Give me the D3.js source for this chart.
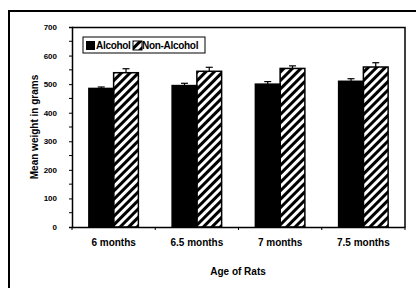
<!DOCTYPE html>
<html>
<head>
<meta charset="utf-8">
<script src="https://cdn.jsdelivr.net/npm/d3@7"></script>
<style>
  body { margin: 0; background: #fff; }
  text { font-family: "Liberation Sans", Arial, sans-serif; font-weight: bold; fill: #000; }
</style>
</head>
<body>
<div id="chart"></div>
<script>
// Data
var categories = ['6 months', '6.5 months', '7 months', '7.5 months'];
var series = ['Alcohol', 'Non-Alcohol'];
var alcohol = [485, 495, 500, 510];
var alcoholErr = [5, 8, 9, 9];
var nonAlcohol = [540, 545, 555, 560];
var nonAlcoholErr = [14, 14, 9, 15];
var yTicks = [0, 100, 200, 300, 400, 500, 600, 700];

var width = 416, height = 288;
var margin = {top: 27, right: 11, bottom: 61, left: 72};
var w = width - margin.left - margin.right;
var h = height - margin.top - margin.bottom;

var svg = d3.select('#chart').append('svg')
    .attr('width', width)
    .attr('height', height);

// hatch pattern
var defs = svg.append('defs');
defs.append('pattern')
    .attr('id', 'hatch')
    .attr('patternUnits', 'userSpaceOnUse')
    .attr('width', 6)
    .attr('height', 6)
    .attr('patternTransform', 'rotate(45)')
  .append('rect')
    .attr('width', 3)
    .attr('height', 6)
    .attr('fill', '#000');

// outer frame (left + top only visible)
svg.append('path')
    .attr('d', 'M9,' + height + 'V11H' + width)
    .attr('fill', 'none')
    .attr('stroke', '#000')
    .attr('stroke-width', 2);

var g = svg.append('g')
    .attr('transform', 'translate(' + margin.left + ',' + margin.top + ')');

var x0 = d3.scaleBand().domain(categories).range([0, w]);
var x1 = d3.scaleBand().domain(series).range([0, 49.5]);
var y = d3.scaleLinear().domain([0, 700]).range([h, 0]);

// plot box top + right
g.append('path')
    .attr('d', 'M0,0.5H' + w + 'V' + h)
    .attr('fill', 'none')
    .attr('stroke', '#000')
    .attr('stroke-width', 1.5);

var rows = categories.map(function(c, i) {
    return [
        {cat: c, key: 'Alcohol', v: alcohol[i], e: alcoholErr[i]},
        {cat: c, key: 'Non-Alcohol', v: nonAlcohol[i], e: nonAlcoholErr[i]}
    ];
});

var grp = g.selectAll('.grp')
    .data(rows)
  .enter().append('g')
    .attr('class', 'grp')
    .attr('transform', function(d) {
        return 'translate(' + (x0(d[0].cat) + x0.bandwidth() / 2 - 24.75) + ',0)';
    });

// error bars (upper half)
grp.selectAll('.err')
    .data(function(d) { return d; })
  .enter().append('g')
    .attr('class', 'err')
    .each(function(d) {
        var cx = x1(d.key) + x1.bandwidth() / 2;
        var e = d3.select(this);
        e.append('line')
            .attr('x1', cx).attr('x2', cx)
            .attr('y1', y(d.v)).attr('y2', y(d.v + d.e))
            .attr('stroke', '#000').attr('stroke-width', 1.2);
        e.append('line')
            .attr('x1', cx - 3.5).attr('x2', cx + 3.5)
            .attr('y1', y(d.v + d.e)).attr('y2', y(d.v + d.e))
            .attr('stroke', '#000').attr('stroke-width', 1.2);
    });

grp.selectAll('rect')
    .data(function(d) { return d; })
  .enter().append('rect')
    .attr('x', function(d) { return x1(d.key); })
    .attr('y', function(d) { return y(d.v); })
    .attr('width', x1.bandwidth())
    .attr('height', function(d) { return h - y(d.v); })
    .attr('fill', function(d) { return d.key === 'Alcohol' ? '#000' : 'url(#hatch)'; })
    .attr('stroke', '#000')
    .attr('stroke-width', 1.5);

// Y axis
var yAxis = d3.axisLeft(y)
    .tickValues(yTicks)
    .tickSize(3)
    .tickPadding(12);
var ya = g.append('g').call(yAxis);
ya.select('.domain').attr('stroke-width', 1.5);
ya.selectAll('text').style('font-size', '8px');
// minor ticks
ya.selectAll('.minor')
    .data(d3.range(50, 700, 100))
  .enter().append('line')
    .attr('x1', -3).attr('x2', 0)
    .attr('y1', function(d) { return y(d); })
    .attr('y2', function(d) { return y(d); })
    .attr('stroke', '#000');

// X axis
var xAxis = d3.axisBottom(x0).tickSize(0).tickPadding(14);
var xa = g.append('g')
    .attr('transform', 'translate(0,' + h + ')')
    .call(xAxis);
xa.select('.domain').attr('stroke-width', 1.5);
xa.selectAll('text').style('font-size', '10px').attr('dy', '0.5em');
xa.selectAll('.sep')
    .data(d3.range(0, categories.length + 1))
  .enter().append('line')
    .attr('x1', function(d) { return d * x0.step(); })
    .attr('x2', function(d) { return d * x0.step(); })
    .attr('y1', 0).attr('y2', 3)
    .attr('stroke', '#000');

// axis titles
svg.append('text')
    .attr('transform', 'translate(38,' + (margin.top + h / 2) + ') rotate(-90)')
    .attr('text-anchor', 'middle')
    .style('font-size', '10px')
    .text('Mean weight in grams');

svg.append('text')
    .attr('x', 238)
    .attr('y', 275)
    .attr('text-anchor', 'middle')
    .style('font-size', '10px')
    .text('Age of Rats');

// legend
var lg = svg.append('g').attr('transform', 'translate(83,37)');
lg.append('rect')
    .attr('width', 122).attr('height', 16)
    .attr('fill', '#fff').attr('stroke', '#000').attr('stroke-width', 1);
lg.append('rect')
    .attr('x', 3).attr('y', 4).attr('width', 9).attr('height', 9)
    .attr('fill', '#000');
lg.append('text')
    .attr('x', 13).attr('y', 12)
    .style('font-size', '10px')
    .style('letter-spacing', '-0.3px')
    .text(series[0]);
lg.append('rect')
    .attr('x', 50).attr('y', 4).attr('width', 9).attr('height', 9)
    .attr('fill', 'url(#hatch)').attr('stroke', '#000');
lg.append('text')
    .attr('x', 59).attr('y', 12)
    .style('font-size', '10px')
    .style('letter-spacing', '-0.3px')
    .text(series[1]);
</script>
</body>
</html>
